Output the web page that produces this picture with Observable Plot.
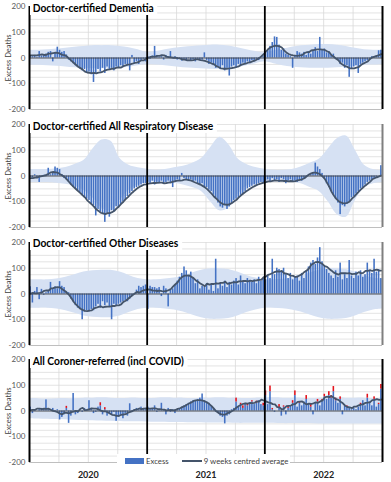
<!DOCTYPE html>
<html><head><meta charset="utf-8">
<script src="https://cdn.jsdelivr.net/npm/d3@7"></script>
<script src="https://cdn.jsdelivr.net/npm/@observablehq/plot@0.6"></script>
<style>
body{margin:0;background:#fff;}
#chart{position:relative;width:391px;height:482px;overflow:hidden;font-family:Lato,"Open Sans",sans-serif;background:#fff;}
#chart svg{position:absolute;left:0;overflow:visible;}
.title{position:absolute;background:#fff;font-weight:bold;font-size:11.5px;line-height:14px;padding:0 4px 0 3px;color:#000;white-space:nowrap;transform:scaleX(0.89);transform-origin:0 0;}
.legend{position:absolute;left:117px;top:454px;width:173px;height:14px;background:#fff;display:flex;align-items:center;font-size:7.8px;color:#404040;white-space:nowrap;}
.sw{display:inline-block;}
svg [aria-label="y-axis tick label"] text{font-size:8px;fill:#595959;}
svg [aria-label="x-axis tick label"] text{font-size:9px;font-weight:bold;fill:#222;}
</style></head><body><div id="chart"></div>
<script>
// ---- data (weekly excess deaths, 156 weeks 2020-2022) ----
const titles = ["Doctor-certified Dementia","Doctor-certified All Respiratory Disease","Doctor-certified Other Diseases","All Coroner-referred (incl COVID)"];
const yearLabels = ["2020","2021","2022"];
const yearMid = [26, 78, 130];
const yearBreaks = [52, 104];
const quarterWeeks = [13, 26, 39, 65, 78, 91, 117, 130, 143];
const yTicks = [200, 100, 0, -100, -200];
const gridLevels = [200, 175, 150, 125, 100, 75, 50, 25, -25, -50, -75, -100, -125, -150, -175];

const dementia = [
 8,5,10,3,25,8,12,15,22,25,-15,18,42,
 30,22,25,12,-8,-15,-22,-30,-35,-42,-50,-45,-60,
 -55,-65,-95,-60,-45,-55,-40,-60,-35,-45,-40,-50,-35,
 -40,-30,-35,-25,-30,-50,10,-20,-15,-25,-10,-5,-15,
 5,-5,8,45,10,3,5,-8,10,5,25,-3,5,
 -8,-5,-12,-5,-10,-3,-12,-8,-15,-5,-10,-8,20,
 -10,-25,-20,-30,-40,-35,-45,-30,-50,-40,-70,-35,-30,
 -40,-25,-30,-20,-25,-15,-20,-10,-15,-5,-10,0,5,
 20,30,45,60,82,80,50,30,35,15,10,5,-40,
 10,25,20,15,22,10,25,15,30,40,25,80,30,
 35,20,25,10,15,-5,-10,-25,-20,-40,-30,-75,-45,
 -35,-30,-60,-25,-20,-15,-10,-5,5,3,8,28,30];
const respiratory = [
 -5,-8,5,-10,-25,-5,3,-3,30,5,10,35,30,
 25,5,-10,-15,-25,-35,-45,-50,-60,-65,-75,-85,-90,
 -95,-110,-115,-155,-130,-140,-150,-180,-145,-160,-135,-140,-120,
 -125,-110,-100,-95,-80,-70,-60,-50,-45,-40,-35,-30,-30,
 -25,-30,-20,-35,-25,-30,-20,-30,-25,-20,-30,-45,-20,
 -15,-20,10,-10,-15,-20,-15,-25,-20,-30,-35,-30,-45,
 -45,-55,-60,-75,-85,-105,-120,-125,-115,-130,-120,-105,-95,
 -90,-85,-75,-70,-60,-50,-45,-40,-35,-40,-30,-25,-30,
 -20,-15,-25,-10,-20,-15,-25,-10,-15,-30,-20,-15,-25,
 -20,-25,-15,-20,-10,-5,0,5,10,50,35,25,10,
 -10,-30,-45,-60,-75,-90,-105,-150,-115,-120,-110,-100,-85,
 -80,-70,-60,-50,-45,-35,-25,-20,-15,-10,-5,0,40];
const otherDiseases = [
 28,-35,10,25,-22,18,-5,5,12,45,22,28,20,
 48,30,25,10,5,-20,-30,-45,-55,-60,-100,-70,-65,
 -70,-60,-65,-50,-40,-55,-30,-45,-35,-50,-100,-40,-45,
 -40,-35,-30,-25,-30,-20,-10,0,15,30,25,30,35,
 -60,30,25,25,20,25,-10,30,20,-50,15,20,35,
 50,65,80,105,90,70,85,60,40,55,20,30,25,
 40,15,35,10,135,20,40,30,50,25,45,35,50,
 60,35,70,45,40,60,50,45,55,40,65,50,60,
 55,70,60,135,75,100,95,85,100,75,60,80,55,
 65,70,50,80,60,90,105,120,130,115,140,180,125,
 110,95,80,70,60,90,65,120,55,75,60,130,70,
 60,85,70,90,65,75,120,90,80,135,85,95,60];
const coronerExcess = [
 15,-10,5,0,5,10,8,43,5,0,10,-5,5,
 -35,-25,-15,10,-48,-20,68,-15,-10,5,-5,10,5,
 40,10,-10,-5,15,20,-15,5,-20,-10,-15,-5,-40,
 -25,-15,-30,-10,-20,28,-5,5,10,5,15,10,5,
 15,5,10,20,-5,5,30,5,-15,10,-5,5,-10,
 5,10,15,20,25,30,35,40,40,45,50,66,40,
 35,30,20,10,0,-10,-20,-25,-50,-20,-15,5,10,
 35,15,25,10,30,20,30,35,25,30,40,25,20,
 60,25,75,5,-5,0,10,-20,15,-15,10,20,30,
 60,15,30,20,35,45,25,15,-15,30,35,20,40,
 55,45,60,50,75,40,30,45,-15,20,15,10,5,
 10,5,15,25,40,20,50,35,20,45,15,25,85];
const coronerCovid = [
 0,0,0,0,0,0,0,0,0,0,0,0,0,
 0,0,0,8,0,0,0,0,0,0,0,0,0,
 0,0,0,0,0,12,0,8,0,0,0,0,0,
 0,0,0,0,0,0,0,0,0,0,0,0,0,
 0,0,0,0,0,0,0,0,0,0,0,0,0,
 0,0,0,0,0,0,0,0,0,0,0,0,0,
 0,0,0,0,0,0,0,0,0,0,0,0,0,
 15,0,5,10,0,8,0,5,0,8,0,0,10,
 18,0,22,5,0,0,15,0,5,0,8,0,10,
 18,0,5,0,0,15,0,10,0,0,10,0,5,
 10,0,15,10,20,10,0,10,0,0,5,0,0,
 0,0,0,5,0,0,15,0,0,10,0,5,18];

// expected range band, sampled every 4 weeks
const bandWeeks = [0,4,8,12,16,20,24,28,32,36,40,44,48,52,56,60,64,68,72,76,80,84,88,92,96,100,104,108,112,116,120,124,128,132,136,140,144,148,152,156];
const dementiaHi = [30,30,32,35,38,42,45,48,48,48,45,40,32,22,25,32,38,42,45,48,50,50,47,40,32,25,20,28,35,42,48,50,52,52,50,45,38,32,30,30];
const dementiaLo = [-28,-28,-30,-32,-35,-38,-40,-42,-42,-42,-40,-36,-30,-25,-27,-30,-34,-38,-40,-42,-44,-44,-42,-38,-30,-22,-15,-22,-30,-35,-38,-40,-40,-40,-38,-35,-32,-28,-27,-26];
const respHi = [25,25,25,28,33,45,60,105,140,135,68,42,32,26,22,25,32,38,50,68,110,150,122,68,45,33,26,22,22,25,35,50,65,105,145,155,100,42,25,20];
const respLo = [-25,-25,-25,-28,-32,-40,-55,-85,-125,-135,-95,-55,-35,-25,-22,-25,-28,-35,-45,-60,-100,-135,-125,-75,-40,-30,-25,-22,-22,-25,-30,-45,-60,-100,-150,-160,-95,-45,-30,-25];
const otherHi = [55,55,55,58,65,75,85,90,92,92,85,72,60,55,55,58,62,70,82,92,98,98,95,85,72,62,55,55,57,62,70,82,92,98,98,95,85,72,62,58];
const otherLo = [-55,-55,-55,-58,-65,-75,-85,-90,-92,-92,-85,-72,-60,-55,-55,-58,-62,-70,-82,-92,-98,-98,-95,-85,-72,-62,-55,-55,-57,-62,-70,-82,-92,-98,-98,-95,-85,-72,-62,-58];
const coronerHi = [48,48,47,48,49,48,50,50,51,50,49,50,50,49,50,51,50,50,49,50,50,51,50,50,49,50,50,51,50,50,50,49,50,50,51,50,50,50,49,50];
const coronerLo = [-30,-31,-32,-33,-34,-36,-37,-38,-39,-40,-41,-42,-42,-43,-44,-44,-45,-45,-46,-46,-47,-47,-47,-48,-48,-48,-48,-48,-49,-49,-49,-49,-50,-50,-50,-50,-50,-50,-50,-50];

const weeks = d3.range(dementia.length);

const panels = [
  {values: dementia, hi: dementiaHi, lo: dementiaLo, covid: null, edge: "#000"},
  {values: respiratory, hi: respHi, lo: respLo, covid: null, edge: "#7f7f7f"},
  {values: otherDiseases, hi: otherHi, lo: otherLo, covid: null, edge: "#7f7f7f"},
  {values: coronerExcess, hi: coronerHi, lo: coronerLo, covid: coronerCovid, edge: "#000"}
];
const tops = [0, 118, 235.7, 353];

const chart = document.getElementById("chart");

panels.forEach((cfg, p) => {
  const last = p === panels.length - 1;
  const rows = weeks.map(i => ({week: i, v: cfg.values[i], c: cfg.covid ? cfg.covid[i] : 0}));
  const band = bandWeeks.map((w, i) => ({week: w, hi: cfg.hi[i], lo: cfg.lo[i]}));
  const marks = [
    Plot.ruleY(gridLevels, {stroke: "#d9d9d9", strokeWidth: 0.7}),
    Plot.ruleX(quarterWeeks, {stroke: "#d9d9d9", strokeWidth: 0.8}),
    Plot.areaY(band, {x: "week", y1: "lo", y2: "hi", fill: "#d6e1f3", curve: "catmull-rom"}),
    Plot.rect(rows, {x1: "week", x2: d => d.week + 1, y1: 0, y2: "v", fill: "#4472c4", insetLeft: 0.35, insetRight: 0.35})
  ];
  if (cfg.covid) {
    marks.push(Plot.rect(rows.filter(d => d.c > 0), {x1: "week", x2: d => d.week + 1, y1: "v", y2: d => d.v + d.c, fill: "#e4121b", insetLeft: 0.35, insetRight: 0.35}));
  }
  marks.push(
    Plot.ruleY([0], {stroke: "#404040", strokeWidth: 0.9}),
    Plot.lineY(rows, Plot.windowY({k: 9, anchor: "middle", reduce: "mean"}, {x: d => d.week + 0.5, y: d => d.v + d.c, stroke: "#44546a", strokeWidth: 1.8})),
    Plot.ruleY([-200], {stroke: "#bfbfbf", strokeWidth: 1}),
    Plot.ruleX(yearBreaks, {stroke: "#000", strokeWidth: 1.8}),
    Plot.ruleX([156], {stroke: cfg.edge, strokeWidth: 2}),
    Plot.ruleX([0], {stroke: "#000", strokeWidth: 2}),
    Plot.text(["Excess Deaths"], {frameAnchor: "left", rotate: -90, dx: -21, textAnchor: "middle", fontSize: 7.5, fill: "#404040"})
  );
  const svg = Plot.plot({
    width: 391,
    height: last ? 129 : 117,
    marginLeft: 29, marginRight: 9, marginTop: 6, marginBottom: last ? 20 : 8,
    style: {fontFamily: "Lato, sans-serif", background: "transparent", overflow: "visible"},
    x: last
      ? {domain: [0, 156], ticks: yearMid, tickFormat: (d) => yearLabels[yearMid.indexOf(d)], tickSize: 0, tickPadding: 9, label: null}
      : {domain: [0, 156], axis: null},
    y: {domain: [-200, 200], ticks: yTicks, tickFormat: d => String(d), tickSize: 0, tickPadding: 4, label: null},
    marks
  });
  svg.style.top = tops[p] + "px";
  chart.appendChild(svg);
  const t = document.createElement("div");
  t.className = "title";
  t.textContent = titles[p];
  t.style.left = "30px";
  t.style.top = (tops[p] + 0.5) + "px";
  chart.appendChild(t);
});

const legend = document.createElement("div");
legend.className = "legend";
legend.innerHTML = '<span class="sw" style="margin-left:8px;width:19px;height:6px;background:#4472c4"></span>' +
  '<span style="margin-left:2px">Excess</span>' +
  '<span class="sw" style="margin-left:13px;width:20px;height:2px;background:#44546a"></span>' +
  '<span style="margin-left:2px">9 weeks centred average</span>';
chart.appendChild(legend);
</script></body></html>
